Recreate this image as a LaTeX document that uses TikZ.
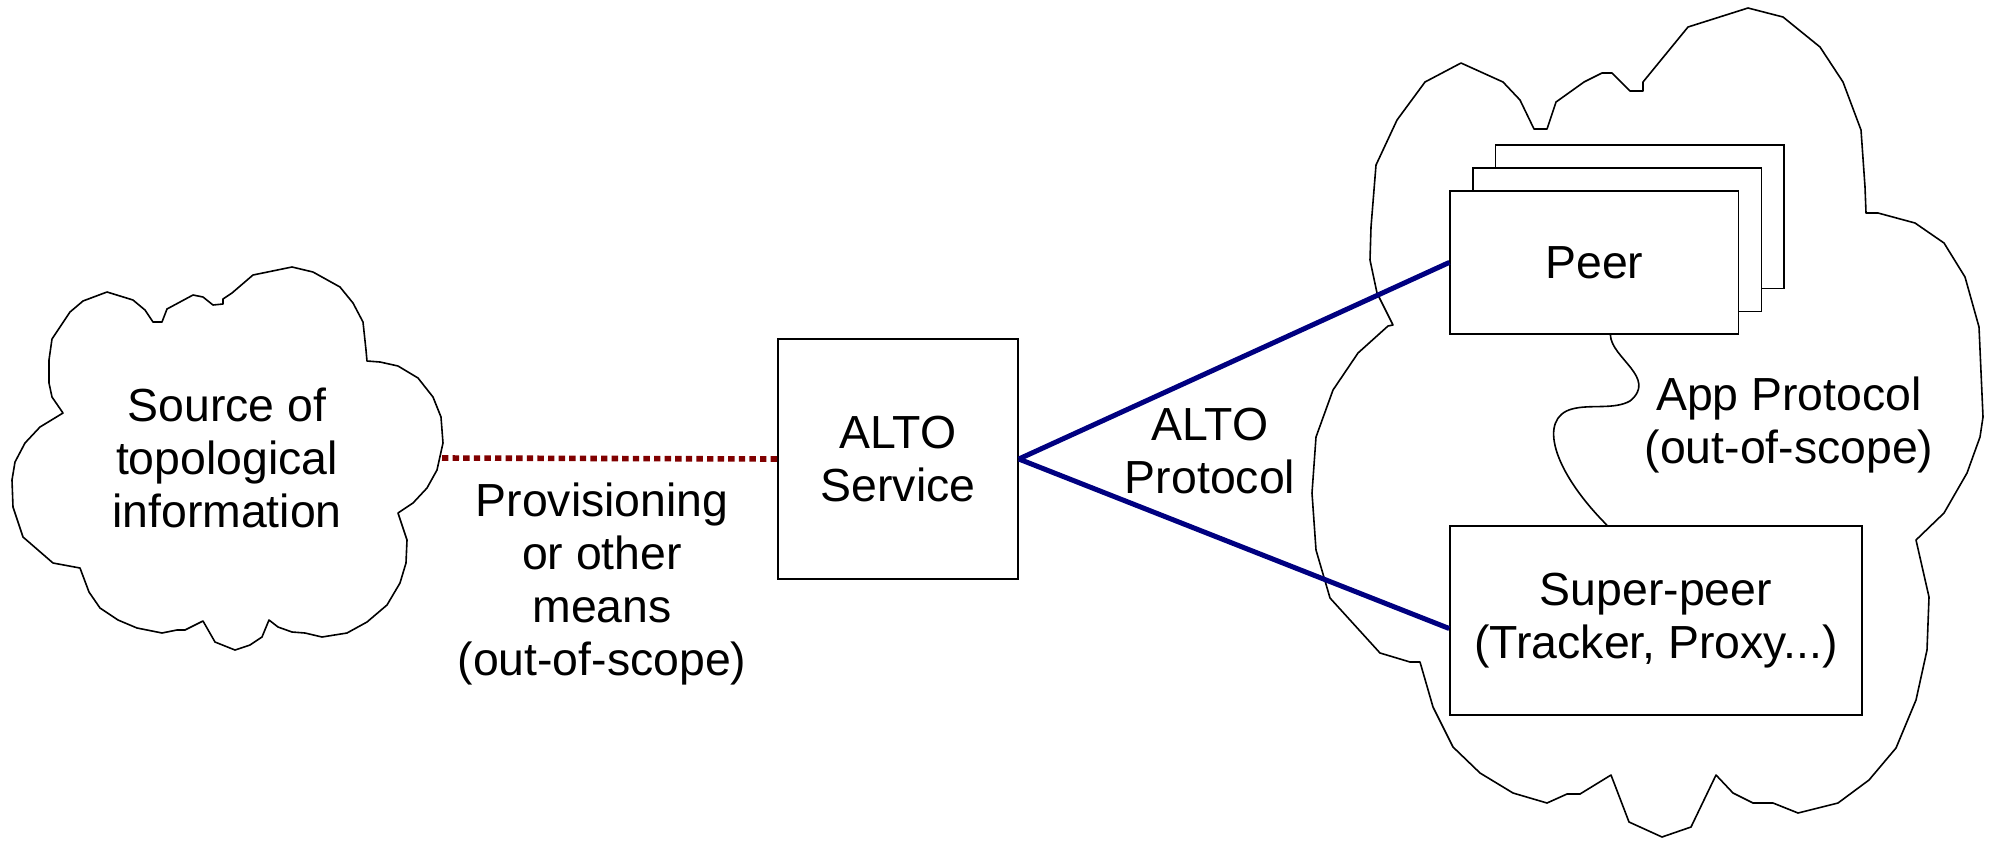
\documentclass[tikz,border=0pt]{standalone}
\usepackage{fontspec}
\setmainfont{Liberation Sans}
\usetikzlibrary{positioning,calc}

\definecolor{linkblue}{RGB}{0,0,128}
\definecolor{linkred}{RGB}{128,0,0}
\tikzset{
  box/.style={draw,line width=0.8pt,fill=white,align=center,inner sep=0pt},
  cloudline/.style={draw,line width=0.8pt,line join=round},
  altolink/.style={draw=linkblue,line width=2.5pt},
  provlink/.style={draw=linkred,line width=2.8pt,dash pattern=on 3.2pt off 2.1pt},
}

\begin{document}
\begin{tikzpicture}[x=0.5pt,y=-0.5pt,font=\fontsize{23.2}{26.6}\selectfont]
\useasboundingbox (0,0) rectangle (1997,842);

% Left cloud (source of topology).
\draw[cloudline] (107,292) -- (83,301) -- (70,312) -- (52,339) -- (49,360) -- (49,383)
  -- (52,397) -- (63,413) -- (40,427) -- (25,443) -- (15,462) -- (12,480) -- (13,507)
  -- (23,537) -- (53,563) -- (80,568) -- (89,592) -- (100,608) -- (118,620) -- (137,628)
  -- (162,633) -- (177,630) -- (185,630) -- (203,621) -- (215,642) -- (235,650)
  -- (250,645) -- (262,637) -- (269,620) -- (278,627) -- (292,632) -- (305,633)
  -- (322,637) -- (347,633) -- (367,622) -- (387,605) -- (400,583) -- (406,563)
  -- (407,540) -- (398,513) -- (413,503) -- (427,488) -- (437,470) -- (443,443)
  -- (441,417) -- (433,397) -- (418,378) -- (398,366) -- (380,362) -- (367,361)
  -- (366,350) -- (363,322) -- (353,303) -- (340,287) -- (313,272) -- (292,267)
  -- (253,275) -- (232,293) -- (223,299) -- (223,304) -- (213,305) -- (203,297)
  -- (193,295) -- (167,309) -- (162,322) -- (153,322) -- (145,310) -- (133,300) -- cycle;

% Right cloud (application overlay).
\draw[cloudline] (1461,63) -- (1503,82) -- (1520,100) -- (1534,129) -- (1547,129)
  -- (1556,102) -- (1584,82) -- (1602,73) -- (1612,73) -- (1630,91) -- (1643,91)
  -- (1643,82) -- (1688,27) -- (1748,8) -- (1783,17) -- (1820,47) -- (1843,82)
  -- (1861,130) -- (1865,187) -- (1866,213) -- (1878,213) -- (1915,223) -- (1944,243)
  -- (1965,277) -- (1979,327) -- (1983,417) -- (1980,437) -- (1967,473) -- (1944,513)
  -- (1916,540) -- (1929,597) -- (1927,650) -- (1916,700) -- (1896,748) -- (1869,780)
  -- (1838,803) -- (1798,813) -- (1773,803) -- (1753,803) -- (1733,793) -- (1716,775)
  -- (1691,827) -- (1662,837) -- (1629,822) -- (1611,775) -- (1580,794) -- (1567,794)
  -- (1547,803) -- (1513,793) -- (1480,773) -- (1453,747) -- (1433,707) -- (1420,662)
  -- (1410,662) -- (1380,653) -- (1330,598) -- (1316,550) -- (1312,493) -- (1316,437)
  -- (1333,390) -- (1358,353) -- (1388,326) -- (1393,325) -- (1377,293) -- (1370,260)
  -- (1371,227) -- (1376,165) -- (1397,120) -- (1425,82) -- cycle;

\node[align=center,inner sep=0pt] (src) at (227,458) {Source of\\topological\\information};
\node[box,minimum width=120pt,minimum height=120pt] (alto) at (898,459) {ALTO\\Service};

% Stack of peers, drawn back to front.
\foreach \i/\nm/\lab in {2/peerc/{},1/peerb/{},0/peer/Peer}{
  \node[box,minimum width=144.2pt,minimum height=71.7pt] (\nm) at (1594.4+22.7*\i,262.4-22.8*\i) {\lab};
}
\node[box,minimum width=206pt,minimum height=94.5pt] (sp) at (1656,620.5) {Super-peer\\(Tracker, Proxy...)};

\node[align=center,inner sep=0pt] (provlbl) at (602,584) {Provisioning\\or other\\means\\(out-of-scope)};
\node[align=center,inner sep=0pt] (altolbl) at (1210,451) {ALTO\\Protocol};
\node[align=center,inner sep=0pt] (applbl) at (1789,425) {App Protocol\\(out-of-scope)};

% Links.
\coordinate (srcedge) at (442,458);
\draw[provlink] (srcedge) -- (alto.west);
\draw[altolink] (alto.east) -- (peer.west);
\draw[altolink] (alto.east) -- ([yshift=-4pt]sp.west);
\draw[line width=0.8pt] ([xshift=8pt]peer.south) .. controls (1611,358) and (1658,378) .. (1630,401)
  .. controls (1614,410) and (1590,404) .. (1572,409)
  .. controls (1538,418) and (1552,470) .. ([xshift=-24.5pt]sp.north);
\end{tikzpicture}
\end{document}
